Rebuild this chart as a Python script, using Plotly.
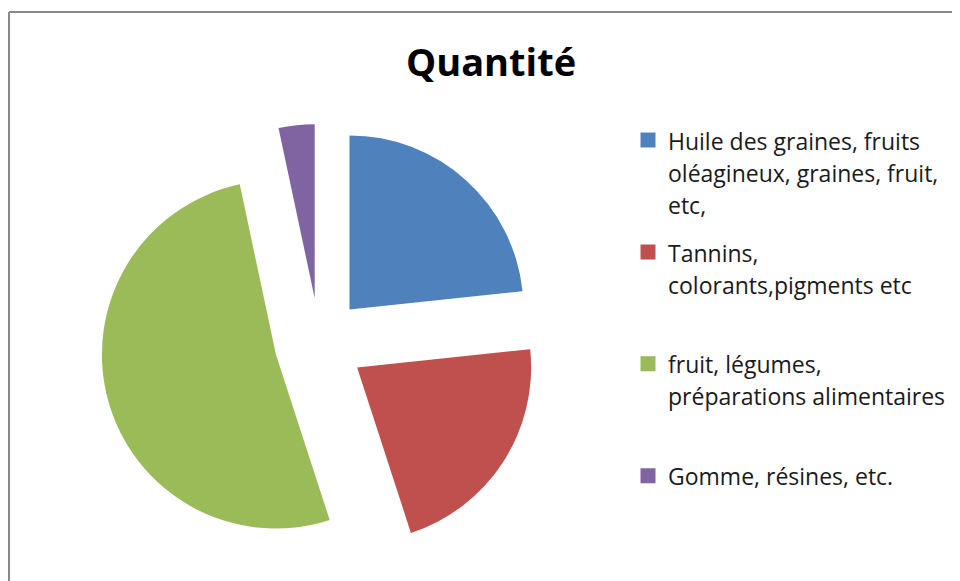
import plotly.graph_objects as go

# ---- data ----
categories = [
    "Huile des graines, fruits<br>oléagineux, graines, fruit,<br>etc,",
    "Tannins,<br>colorants,pigments etc",
    "fruit, légumes,<br>préparations alimentaires",
    "Gomme, résines, etc.",
]
values = [7, 6.5, 15.5, 1]
colors = ["#4F81BD", "#C0504D", "#9BBB59", "#8064A2"]
title_text = "Quantité"

W, H = 960, 581
OFF = 8          # page body margin offset
GLYPH = 23       # legend glyph size (px)


def legend_label(lbl, pad_to=3):
    lines = lbl.split("<br>")
    while len(lines) < pad_to:
        lines.append("\u00a0")
    return "<br>".join(f'<span style="font-size:{GLYPH}px">{ln}</span>' for ln in lines)


fig = go.Figure()

cx, cy, half = 319.4 - OFF, 342.9 - OFF, 219.0
fig.add_trace(go.Pie(
    labels=categories,
    values=values,
    sort=False,
    direction="clockwise",
    rotation=0,
    pull=[0.2586] * len(values),
    marker=dict(colors=colors, line=dict(width=0)),
    textinfo="none",
    hoverinfo="label+value+percent",
    showlegend=False,
    domain=dict(x=[(cx - half) / W, (cx + half) / W],
                y=[(H - cy - half) / H, (H - cy + half) / H]),
))

# legend entries (one per category)
for i, (lbl, c) in enumerate(zip(categories, colors)):
    fig.add_trace(go.Scatter(
        x=[None], y=[None], mode="markers",
        marker=dict(symbol="square", size=15, color=c),
        name=legend_label(lbl, 3 if i < len(categories) - 1 else 1),
        legendgroup=f"g{i}",
        showlegend=True,
        hoverinfo="skip",
    ))

fig.update_layout(
    width=W, height=H,
    margin=dict(l=0, r=0, t=0, b=0),
    paper_bgcolor="white",
    plot_bgcolor="white",
    xaxis=dict(visible=False),
    yaxis=dict(visible=False),
    title=dict(
        text=f"<b>{title_text}</b>",
        font=dict(family="Open Sans", size=38, color="black"),
        x=(491 - OFF) / W, xanchor="center",
        y=1 - (63 - OFF) / H, yanchor="middle", yref="container",
    ),
    legend=dict(
        x=620 / W, xanchor="left",
        y=1 - 109.5 / H, yanchor="top",
        font=dict(family="Open Sans", size=24.6, color="#1a1a1a"),
        valign="top",
        tracegroupgap=13,
        itemwidth=30,
        bgcolor="rgba(0,0,0,0)",
        traceorder="grouped",
    ),
    shapes=[
        dict(type="line", xref="paper", yref="paper",
             x0=(9 - OFF) / W, x1=(9 - OFF) / W, y0=-0.05, y1=1 - (12 - OFF) / H,
             line=dict(color="#898989", width=2)),
        dict(type="line", xref="paper", yref="paper",
             x0=(9 - OFF) / W, x1=1.05, y0=1 - (12 - OFF) / H, y1=1 - (12 - OFF) / H,
             line=dict(color="#898989", width=2)),
    ],
)

fig.write_html("out.html")
